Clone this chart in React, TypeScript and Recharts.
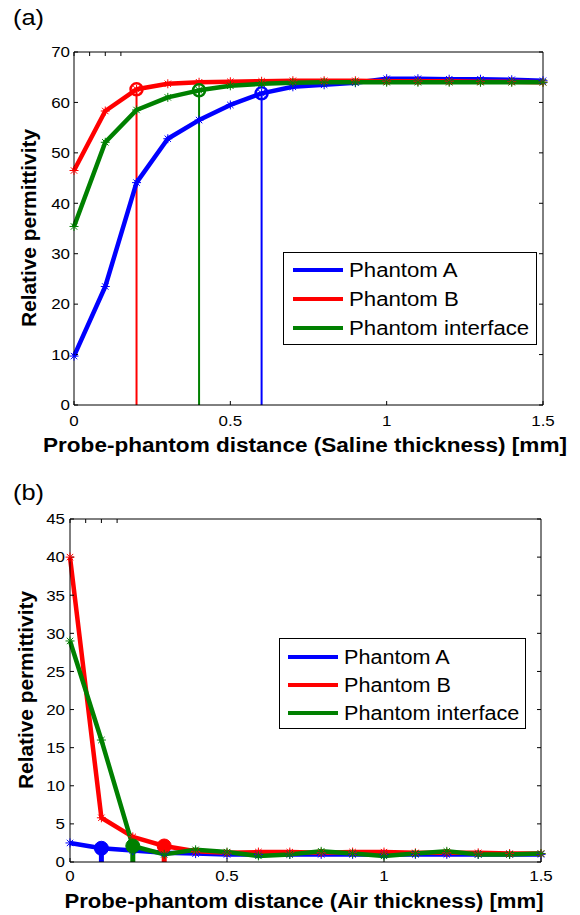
import React from 'react';
import { LineChart, Line, XAxis, YAxis, ReferenceLine, Legend } from 'recharts';

const FONT = '"Liberation Sans", Arial, Helvetica, sans-serif';

// ---- data ----
const distances = [0, 0.1, 0.2, 0.3, 0.4, 0.5, 0.6, 0.7, 0.8, 0.9, 1.0, 1.1, 1.2, 1.3, 1.4, 1.5];
const seriesNames = ['Phantom A', 'Phantom B', 'Phantom interface'];
const seriesColors = ['#0000ff', '#ff0000', '#008000'];

const salinePhantomA = [9.7, 23.5, 44.1, 52.8, 56.5, 59.5, 61.8, 63.1, 63.5, 63.9, 64.7, 64.7, 64.6, 64.6, 64.5, 64.3];
const salinePhantomB = [46.5, 58.3, 62.6, 63.7, 64.0, 64.1, 64.2, 64.3, 64.3, 64.3, 64.2, 64.2, 64.2, 64.1, 64.1, 64.0];
const salineInterface = [35.4, 52.1, 58.5, 61.0, 62.4, 63.3, 63.7, 63.9, 64.0, 64.0, 64.0, 64.0, 64.0, 64.0, 64.0, 64.0];
const salineMarkerIdx = [6, 2, 4];

const airPhantomA = [2.5, 1.8, 1.5, 1.2, 1.1, 1.0, 1.0, 1.0, 1.0, 1.0, 1.0, 1.0, 1.0, 1.0, 1.0, 1.0];
const airPhantomB = [40.0, 5.8, 3.3, 2.1, 1.4, 1.2, 1.3, 1.3, 1.2, 1.3, 1.3, 1.2, 1.2, 1.2, 1.1, 1.1];
const airInterface = [29.0, 16.0, 2.1, 1.0, 1.6, 1.3, 0.8, 1.0, 1.4, 1.1, 0.8, 1.1, 1.4, 1.0, 1.0, 1.1];
const airMarkerIdx = [1, 3, 2];

const xTicks = [0, 0.5, 1, 1.5];
const salineYTicks = [0, 10, 20, 30, 40, 50, 60, 70];
const airYTicks = [0, 5, 10, 15, 20, 25, 30, 35, 40, 45];

const salineTitle = 'Probe-phantom distance (Saline thickness) [mm]';
const airTitle = 'Probe-phantom distance (Air thickness) [mm]';
const yTitle = 'Relative permittivity';

const keys = ['a', 'b', 'c'];

function buildRows(a: number[], b: number[], c: number[]) {
  return distances.map((x, i) => ({ x, a: a[i], b: b[i], c: c[i] }));
}

function makeDot(color: string, markerIndex: number, circle: { r: number; filled: boolean; sw: number }) {
  return (props: any) => {
    const { cx, cy, index } = props;
    if (cx == null || cy == null) return <g key={`dot-${color}-${index}`} />;
    const s = 4.5;
    const d = 3.2;
    return (
      <g key={`dot-${color}-${index}`}>
        <line x1={cx - s} y1={cy} x2={cx + s} y2={cy} stroke={color} strokeWidth={1} />
        <line x1={cx} y1={cy - s} x2={cx} y2={cy + s} stroke={color} strokeWidth={1} />
        <line x1={cx - d} y1={cy - d} x2={cx + d} y2={cy + d} stroke={color} strokeWidth={1} />
        <line x1={cx - d} y1={cy + d} x2={cx + d} y2={cy - d} stroke={color} strokeWidth={1} />
        {index === markerIndex && (
          <circle cx={cx} cy={cy} r={circle.r} fill={circle.filled ? color : 'none'} stroke={color} strokeWidth={circle.sw} />
        )}
      </g>
    );
  };
}

function StretchTick(props: any) {
  const { x, y, payload, textAnchor, verticalAnchor } = props;
  const dy = verticalAnchor === 'start' ? '0.71em' : '0.355em';
  return (
    <g transform={`translate(${x},${y}) scale(1.13,1)`}>
      <text x={0} y={0} dy={dy} textAnchor={textAnchor} fontSize={15} fontFamily={FONT} fill="#000">
        {String(payload.value)}
      </text>
    </g>
  );
}

type Box = { x: number; y: number; w: number; h: number; row0: number; gap: number; lineX: number; sx: number };

function legendContent(box: Box) {
  return (props: any) => {
    const payload = props.payload || [];
    return (
      <div
        style={{
          position: 'relative',
          width: box.w,
          height: box.h,
          border: '1px solid #000',
          background: '#fff',
          boxSizing: 'border-box',
          fontFamily: FONT,
        }}
      >
        {payload.map((p: any, i: number) => (
          <div
            key={i}
            style={{
              position: 'absolute',
              left: box.lineX,
              top: box.row0 + i * box.gap - 14,
              height: 28,
              display: 'flex',
              alignItems: 'center',
              whiteSpace: 'nowrap',
            }}
          >
            <svg width={50} height={6} style={{ display: 'block' }}>
              <line x1={0} y1={3} x2={50} y2={3} stroke={p.color} strokeWidth={4} />
            </svg>
            <span
              style={{
                marginLeft: 6,
                fontSize: 20,
                color: '#000',
                lineHeight: '28px',
                display: 'inline-block',
                transform: `scaleX(${box.sx})`,
                transformOrigin: 'left center',
              }}
            >
              {p.value}
            </span>
          </div>
        ))}
      </div>
    );
  };
}

type PanelProps = {
  top: number;
  height: number;
  margin: { top: number; right: number; bottom: number; left: number };
  series: number[][];
  markerIdx: number[];
  yTicks: number[];
  yMax: number;
  xTickMargin: number;
  yTickMargin: number;
  circle: { r: number; filled: boolean; sw: number };
  vlineWidth: number;
  box: Box;
};

function Panel(p: PanelProps) {
  const rows = buildRows(p.series[0], p.series[1], p.series[2]);
  return (
    <div style={{ position: 'absolute', left: 0, top: p.top }}>
      <LineChart width={580} height={p.height} data={rows} margin={p.margin}>
        <XAxis
          dataKey="x"
          type="number"
          domain={[0, 1.5]}
          ticks={xTicks}
          interval={0}
          height={30}
          stroke="#000"
          tickSize={-4}
          tickMargin={p.xTickMargin}
          tick={<StretchTick />}
        />
        <XAxis
          xAxisId="top"
          orientation="top"
          type="number"
          domain={[0, 1.5]}
          allowDataOverflow
          ticks={xTicks}
          interval={0}
          height={10}
          stroke="#000"
          tickSize={-4}
          tick={() => <g />}
        />
        <YAxis
          type="number"
          domain={[0, p.yMax]}
          ticks={p.yTicks}
          interval={0}
          width={60}
          stroke="#000"
          tickSize={-4}
          tickMargin={p.yTickMargin}
          tick={<StretchTick />}
        />
        <YAxis
          yAxisId="right"
          orientation="right"
          type="number"
          domain={[0, p.yMax]}
          allowDataOverflow
          ticks={p.yTicks}
          interval={0}
          width={10}
          stroke="#000"
          tickSize={-4}
          tick={() => <g />}
        />
        {p.markerIdx.map((mi, s) => (
          <ReferenceLine
            key={`v-${s}`}
            segment={[
              { x: distances[mi], y: 0 },
              { x: distances[mi], y: p.series[s][mi] },
            ]}
            stroke={seriesColors[s]}
            strokeWidth={p.vlineWidth}
          />
        ))}
        {keys.map((k, s) => (
          <Line
            key={k}
            dataKey={k}
            name={seriesNames[s]}
            type="linear"
            stroke={seriesColors[s]}
            strokeWidth={4.5}
            strokeLinejoin="round"
            dot={makeDot(seriesColors[s], p.markerIdx[s], p.circle)}
            activeDot={false}
            isAnimationActive={false}
          />
        ))}
        <Legend
          layout="vertical"
          verticalAlign="middle"
          align="center"
          wrapperStyle={{ position: 'absolute', left: p.box.x, top: p.box.y, width: p.box.w, height: p.box.h }}
          content={legendContent(p.box)}
        />
      </LineChart>
    </div>
  );
}

export default function App() {
  return (
    <div style={{ position: 'absolute', left: 0, top: 0, width: 580, height: 915, background: '#fff', overflow: 'hidden' }}>
      <Panel
        top={0}
        height={460}
        margin={{ top: 42, right: 27, bottom: 25, left: 14 }}
        series={[salinePhantomA, salinePhantomB, salineInterface]}
        markerIdx={salineMarkerIdx}
        yTicks={salineYTicks}
        yMax={70}
        xTickMargin={14}
        yTickMargin={8}
        circle={{ r: 6, filled: false, sw: 2.5 }}
        vlineWidth={2}
        box={{ x: 283, y: 252, w: 254, h: 93, row0: 17, gap: 29, lineX: 9, sx: 1.11 }}
      />
      <Panel
        top={460}
        height={455}
        margin={{ top: 49, right: 29, bottom: 23, left: 10 }}
        series={[airPhantomA, airPhantomB, airInterface]}
        markerIdx={airMarkerIdx}
        yTicks={airYTicks}
        yMax={45}
        xTickMargin={12}
        yTickMargin={9}
        circle={{ r: 7, filled: true, sw: 1 }}
        vlineWidth={5}
        box={{ x: 279, y: 178, w: 247, h: 91, row0: 18, gap: 28, lineX: 8, sx: 1.08 }}
      />
      <svg
        width={580}
        height={915}
        style={{ position: 'absolute', left: 0, top: 0, pointerEvents: 'none' }}
        fontFamily={FONT}
      >
        <text x={13} y={25} fontSize={22} textLength={31} lengthAdjust="spacingAndGlyphs" fill="#000">(a)</text>
        <text x={305} y={452} fontSize={20} fontWeight="bold" textAnchor="middle" textLength={524} lengthAdjust="spacingAndGlyphs" fill="#000">
          {salineTitle}
        </text>
        <text
          x={35.5}
          y={228}
          fontSize={20}
          fontWeight="bold"
          textAnchor="middle"
          textLength={198}
          lengthAdjust="spacingAndGlyphs"
          transform="rotate(-90 35.5 228)"
          fill="#000"
        >
          {yTitle}
        </text>
        <text x={13} y={500} fontSize={22} textLength={31} lengthAdjust="spacingAndGlyphs" fill="#000">(b)</text>
        <text x={304} y={908} fontSize={20} fontWeight="bold" textAnchor="middle" textLength={479} lengthAdjust="spacingAndGlyphs" fill="#000">
          {airTitle}
        </text>
        <text
          x={33}
          y={690}
          fontSize={20}
          fontWeight="bold"
          textAnchor="middle"
          textLength={198}
          lengthAdjust="spacingAndGlyphs"
          transform="rotate(-90 33 690)"
          fill="#000"
        >
          {yTitle}
        </text>
      </svg>
    </div>
  );
}
